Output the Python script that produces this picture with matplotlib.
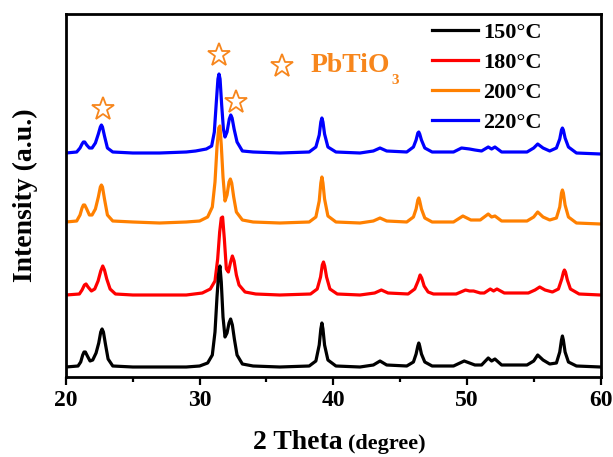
import matplotlib
matplotlib.use("Agg")
import matplotlib.pyplot as plt
from matplotlib.ticker import MultipleLocator
import numpy as np

plt.rcParams['font.family'] = ['Liberation Serif', 'DejaVu Serif']
plt.rcParams['font.weight'] = 'bold'

# XRD patterns, (2theta, intensity) (stacked offsets included)
xrd_150 = np.array([
    (20.0, 10), (20.9, 11), (21.1, 15), (21.25, 22), (21.35, 25), (21.45, 25), (21.6, 21),
    (21.8, 16), (22.0, 17), (22.25, 24), (22.45, 34), (22.6, 45), (22.7, 48), (22.8, 45),
    (22.95, 33), (23.15, 18), (23.5, 11), (25.0, 10), (27.0, 10), (29.0, 10), (30.0, 11),
    (30.6, 14), (30.95, 22), (31.15, 45), (31.3, 80), (31.42, 103), (31.52, 111),
    (31.62, 95), (31.75, 60), (31.9, 40), (32.05, 44), (32.2, 54), (32.32, 58), (32.45, 52),
    (32.6, 38), (32.8, 22), (33.2, 13), (34.0, 11), (36.0, 10), (38.2, 11), (38.7, 16),
    (38.95, 32), (39.07, 48), (39.15, 54), (39.23, 48), (39.35, 32), (39.6, 17), (40.2, 11),
    (42.0, 10), (43.0, 12), (43.5, 16), (44.0, 12), (45.5, 11), (46.0, 15), (46.2, 23),
    (46.33, 31), (46.4, 34), (46.47, 31), (46.6, 23), (46.85, 15), (47.4, 11), (49.0, 11),
    (49.8, 16), (50.6, 12), (51.1, 12), (51.6, 19), (51.85, 16), (52.1, 18), (52.6, 12),
    (54.5, 12), (55.0, 16), (55.3, 22), (55.7, 17), (56.2, 13), (56.7, 14), (56.95, 25),
    (57.08, 37), (57.15, 41), (57.22, 37), (57.35, 25), (57.6, 15), (58.2, 11), (60.0, 10),
])

xrd_180 = np.array([
    (20.0, 82), (21.0, 83), (21.2, 87), (21.38, 92), (21.5, 93), (21.65, 90), (21.9, 86),
    (22.15, 88), (22.4, 96), (22.6, 106), (22.75, 111), (22.88, 107), (23.05, 98),
    (23.3, 88), (23.7, 83), (25.0, 82), (27.0, 82), (29.0, 82), (30.2, 84), (30.8, 88),
    (31.15, 96), (31.35, 118), (31.5, 145), (31.62, 159), (31.72, 160), (31.85, 138),
    (32.0, 108), (32.15, 105), (32.32, 115), (32.45, 121), (32.58, 116), (32.75, 102),
    (32.95, 92), (33.4, 85), (34.2, 83), (36.0, 82), (38.3, 83), (38.8, 88), (39.05, 100),
    (39.18, 112), (39.27, 115), (39.36, 111), (39.5, 100), (39.75, 88), (40.3, 83),
    (42.0, 82), (43.1, 84), (43.6, 87), (44.1, 84), (45.6, 83), (46.1, 88), (46.35, 96),
    (46.5, 102), (46.62, 99), (46.8, 91), (47.1, 85), (47.5, 83), (49.2, 83), (49.9, 87),
    (50.2, 86), (50.5, 86), (51.0, 84), (51.3, 84), (51.75, 88), (52.0, 86), (52.25, 88),
    (52.8, 84), (54.6, 84), (55.1, 87), (55.45, 90), (55.85, 87), (56.4, 85), (56.85, 88),
    (57.1, 98), (57.23, 105), (57.3, 107), (57.38, 105), (57.52, 97), (57.75, 88),
    (58.4, 83), (60.0, 82),
])

xrd_200 = np.array([
    (20.0, 155), (20.8, 156), (21.05, 162), (21.2, 169), (21.3, 172), (21.4, 172),
    (21.55, 168), (21.75, 162), (21.95, 162), (22.2, 168), (22.42, 180), (22.57, 190),
    (22.65, 192), (22.73, 190), (22.88, 178), (23.1, 162), (23.5, 156), (25.0, 155),
    (27.0, 154), (29.0, 155), (30.0, 156), (30.6, 160), (30.95, 170), (31.15, 195),
    (31.3, 230), (31.43, 249), (31.52, 251), (31.62, 232), (31.75, 200), (31.9, 176),
    (32.05, 182), (32.2, 195), (32.3, 198), (32.4, 194), (32.55, 180), (32.75, 165),
    (33.2, 157), (34.0, 155), (36.0, 154), (38.2, 155), (38.7, 160), (38.95, 176),
    (39.07, 194), (39.15, 200), (39.23, 194), (39.35, 178), (39.6, 161), (40.2, 155),
    (42.0, 154), (43.0, 156), (43.5, 159), (44.0, 156), (45.5, 155), (46.0, 160),
    (46.2, 168), (46.33, 177), (46.4, 179), (46.47, 176), (46.6, 168), (46.85, 159),
    (47.4, 155), (49.0, 155), (49.7, 161), (50.3, 157), (51.0, 157), (51.6, 163),
    (51.85, 160), (52.1, 161), (52.6, 156), (54.5, 156), (55.0, 160), (55.3, 165),
    (55.7, 160), (56.2, 157), (56.7, 159), (56.95, 170), (57.08, 184), (57.15, 187),
    (57.22, 184), (57.35, 172), (57.6, 160), (58.2, 154), (60.0, 153),
])

xrd_220 = np.array([
    (20.0, 224), (20.8, 225), (21.05, 229), (21.2, 233), (21.3, 235), (21.4, 235),
    (21.55, 232), (21.75, 229), (21.95, 229), (22.2, 234), (22.42, 243), (22.57, 250),
    (22.65, 252), (22.73, 250), (22.88, 241), (23.1, 229), (23.5, 225), (25.0, 224),
    (27.0, 224), (29.0, 225), (29.7, 226), (30.5, 228), (30.9, 231), (31.1, 245),
    (31.25, 275), (31.37, 298), (31.45, 303), (31.53, 298), (31.65, 272), (31.78, 248),
    (31.9, 240), (32.05, 245), (32.22, 258), (32.33, 262), (32.43, 259), (32.58, 248),
    (32.8, 235), (33.2, 226), (34.0, 225), (36.0, 224), (38.2, 225), (38.7, 230),
    (38.95, 242), (39.07, 255), (39.15, 259), (39.23, 255), (39.35, 243), (39.6, 230),
    (40.2, 225), (42.0, 224), (43.0, 226), (43.5, 229), (44.0, 226), (45.5, 225),
    (46.0, 230), (46.2, 237), (46.33, 244), (46.4, 245), (46.47, 243), (46.6, 237),
    (46.85, 229), (47.4, 225), (49.0, 225), (49.6, 229), (50.2, 228), (50.6, 227),
    (51.1, 226), (51.6, 230), (51.85, 228), (52.1, 230), (52.6, 225), (54.5, 225),
    (55.0, 229), (55.3, 233), (55.7, 229), (56.2, 226), (56.7, 229), (56.95, 238),
    (57.08, 247), (57.15, 249), (57.22, 247), (57.35, 239), (57.6, 230), (58.2, 224),
    (60.0, 223),
])

labels = ['150°C', '180°C', '200°C', '220°C']
colors = ['black', '#ff0000', '#ff8000', '#0000ff']

# PbTiO3 peak markers (2theta, height)
star_x = [22.75, 31.47, 32.72]
star_y = [268, 322, 275]

fig = plt.figure(figsize=(6.13, 4.57), dpi=100)
ax = fig.add_axes([66 / 613, 1 - 377 / 457, 534.5 / 613, 363 / 457])

curves = [xrd_150, xrd_180, xrd_200, xrd_220]
handles = [None] * 4
for i in [3, 2, 1, 0]:
    d = curves[i]
    handles[i], = ax.plot(d[:, 0], d[:, 1], color=colors[i], lw=2.3,
                          solid_joinstyle='round', label=labels[i])

ax.plot(star_x, star_y, ls='none', marker='*', ms=17, mfc='white',
        mec='#f7861c', mew=1.3)
ax.plot([36.15], [311], ls='none', marker='*', ms=17, mfc='white',
        mec='#f7861c', mew=1.3)
ax.text(38.3, 311, 'PbTiO', color='#f7861c', fontsize=20, fontweight='bold',
        va='center', ha='left')
ax.text(44.35, 296, '3', color='#f7861c', fontsize=11, fontweight='bold',
        va='center', ha='left')

ax.set_xlim(20, 60)
ax.set_ylim(0, 363)
ax.set_yticks([])
ax.xaxis.set_major_locator(MultipleLocator(10))
ax.xaxis.set_minor_locator(MultipleLocator(5))
ax.tick_params(axis='x', which='major', direction='out', length=6, width=1.6,
               labelsize=17, pad=3)
ax.tick_params(axis='x', which='minor', direction='out', length=3.5, width=1.6)
for s in ax.spines.values():
    s.set_linewidth(2)

ax.legend(handles=handles, loc='upper left', bbox_to_anchor=(0.685, 0.977),
          frameon=False, fontsize=16, handlelength=2.07, handletextpad=0.22,
          labelspacing=0.42, borderaxespad=0, borderpad=0)

fig.text(343 / 613, 1 - 449 / 457, '2 Theta', fontsize=20, fontweight='bold',
         ha='right', va='baseline')
fig.text(348 / 613, 1 - 449 / 457, '(degree)', fontsize=16, fontweight='bold',
         ha='left', va='baseline')
fig.text(25 / 613, 1 - 195 / 457, 'Intensity (a.u.)', fontsize=20,
         fontweight='bold', rotation=90, ha='center', va='center')

fig.savefig('out.png', dpi=100)
